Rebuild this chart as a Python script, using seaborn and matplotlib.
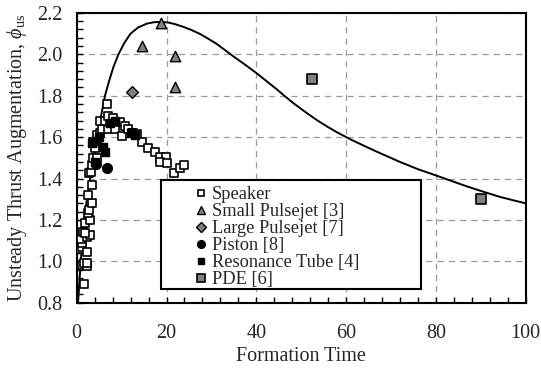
import matplotlib
matplotlib.use("Agg")
import matplotlib.pyplot as plt
from matplotlib.patches import Rectangle
from matplotlib.ticker import MultipleLocator
import seaborn as sns
import pandas as pd

# Speaker data (formation time, thrust augmentation)
speaker_t = [1.6, 1.1, 2.2, 1.6, 2.2, 0.5, 1.1, 2.2, 1.1, 0.9, 2.2, 3.0, 1.5, 1.85,
             1.85, 3.0, 2.6, 2.8, 3.3, 2.6, 3.5, 2.8, 3.1, 3.3, 3.7, 4.45, 4.1, 3.7,
             4.45, 5.2, 5.6, 5.2, 6.3, 6.7, 7.0, 7.4, 8.5, 8.5, 9.6, 10.0, 10.8, 11.5,
             12.3, 12.6, 13.5, 14.5, 15.9, 17.4, 18.6, 19.9, 18.6, 20.2, 21.7, 23.0,
             23.9, 7.0, 8.0]
speaker_phi = [0.89, 0.98, 0.975, 0.99, 0.99, 1.06, 1.07, 1.045, 1.09, 1.11, 1.115,
               1.125, 1.14, 1.135, 1.185, 1.20, 1.232, 1.25, 1.283, 1.32, 1.37, 1.425,
               1.43, 1.465, 1.50, 1.497, 1.545, 1.578, 1.61, 1.62, 1.64, 1.68, 1.68,
               1.758, 1.637, 1.674, 1.666, 1.64, 1.674, 1.605, 1.653, 1.64, 1.62, 1.62,
               1.615, 1.578, 1.545, 1.526, 1.505, 1.505, 1.48, 1.476, 1.425, 1.449,
               1.465, 1.70, 1.69]

small_pj_t = [14.5, 18.8, 21.9, 21.9]
small_pj_phi = [2.04, 2.15, 1.99, 1.84]

large_pj_t = [12.3]
large_pj_phi = [1.82]

piston_t = [6.7, 4.2]
piston_phi = [1.45, 1.47]

res_tube_t = [3.5, 4.5, 5.0, 4.1, 6.3, 5.8, 7.5, 8.5, 12.0, 13.0]
res_tube_phi = [1.57, 1.58, 1.60, 1.48, 1.53, 1.55, 1.67, 1.68, 1.62, 1.61]

pde_t = [52.4, 90.0]
pde_phi = [1.88, 1.30]

# Correlation curve
curve_t = [0.3, 0.9, 1.6, 2.3, 3.0, 3.8, 4.6, 5.4, 6.3, 7.2, 8.2, 9.3, 10.6, 12.0,
           13.7, 15.6, 17.2, 18.9, 20.5, 22.0, 23.7, 25.5, 27.5, 29.3, 31.2, 33.0,
           34.9, 37.5, 40.1, 42.3, 44.5, 46.4, 48.2, 51.0, 53.5, 55.7, 57.9, 60.9,
           63.8, 66.8, 69.4, 72.0, 76.0, 80.0, 83.5, 86.9, 90.6, 94.3, 97.2, 100.0]
curve_phi = [0.80, 1.00, 1.20, 1.30, 1.40, 1.50, 1.60, 1.70, 1.80, 1.87, 1.94, 2.00,
             2.055, 2.10, 2.13, 2.148, 2.155, 2.157, 2.153, 2.145, 2.133, 2.118,
             2.098, 2.075, 2.05, 2.021, 1.99, 1.95, 1.908, 1.87, 1.832, 1.797, 1.765,
             1.72, 1.682, 1.652, 1.624, 1.59, 1.56, 1.53, 1.505, 1.48, 1.445, 1.415,
             1.388, 1.362, 1.336, 1.311, 1.295, 1.280]

x_ticks = [0, 20, 40, 60, 80, 100]
y_ticks = [0.8, 1.0, 1.2, 1.4, 1.6, 1.8, 2.0, 2.2]

sns.set_style("white")
plt.rcParams["font.family"] = ["Liberation Serif", "DejaVu Serif"]
plt.rcParams["mathtext.fontset"] = "custom"
plt.rcParams["mathtext.rm"] = "Liberation Serif"
plt.rcParams["mathtext.it"] = "Liberation Serif:italic"

fig = plt.figure(figsize=(5.41, 3.71), dpi=100)
ax = fig.add_axes([0.1418, 0.1841, 0.8299, 0.7811])

ax.grid(True, which="major", color="#9a9a9a", linestyle=(0, (5, 4)), linewidth=0.9)
ax.set_axisbelow(True)

sns.lineplot(x=curve_t, y=curve_phi, sort=False, color="black", linewidth=1.4,
             ax=ax, zorder=2)

series = [
    ("Speaker", speaker_t, speaker_phi, "s", "white", 5.5, 1.2),
    ("Small Pulsejet [3]", small_pj_t, small_pj_phi, "^", "#808080", 7.5, 1.0),
    ("Large Pulsejet [7]", large_pj_t, large_pj_phi, "D", "#808080", 6.0, 1.0),
    ("Piston [8]", piston_t, piston_phi, "o", "black", 7.0, 1.0),
    ("Resonance Tube [4]", res_tube_t, res_tube_phi, "s", "black", 6.0, 1.0),
    ("PDE [6]", pde_t, pde_phi, "s", "#808080", 7.0, 1.2),
]
handles = []
for name, xs, ys, mk, fc, ms, ew in series:
    df = pd.DataFrame({"t": xs, "phi": ys})
    sns.scatterplot(data=df, x="t", y="phi", marker=mk, s=ms ** 2, color=fc,
                    edgecolor="black", linewidth=ew, ax=ax, zorder=3, legend=False)
    h, = ax.plot([], [], linestyle="none", marker=mk, markersize=ms * 0.8,
                 markerfacecolor=fc, markeredgecolor="black", markeredgewidth=ew)
    handles.append((h, name))

ax.set_xlim(0, 100)
ax.set_ylim(0.8, 2.2)
ax.set_xticks(x_ticks)
ax.set_yticks(y_ticks)
ax.set_xticklabels([str(v) for v in x_ticks])
ax.set_yticklabels([f"{v:.1f}" for v in y_ticks])
ax.xaxis.set_minor_locator(MultipleLocator(4))
ax.yaxis.set_minor_locator(MultipleLocator(0.04))
ax.tick_params(which="both", direction="in", length=4, width=1.0, color="black",
               bottom=True, left=True, top=False, right=False, labelsize=14.5)
ax.tick_params(axis="x", which="major", pad=15)
ax.tick_params(axis="y", which="major", pad=10)

for sp in ax.spines.values():
    sp.set_color("black")
    sp.set_linewidth(1.5)

ax.set_xlabel("Formation Time", fontsize=14.5, labelpad=3)
ax.set_ylabel(r"Unsteady Thrust Augmentation, $\phi_{\mathrm{us}}$", fontsize=14.5,
              labelpad=6)

# Legend box
box = Rectangle((0.188, 0.046), 0.579, 0.377, transform=ax.transAxes,
                facecolor="white", edgecolor="black", linewidth=1.5, zorder=4)
ax.add_patch(box)
leg = ax.legend([h for h, _ in handles], [n for _, n in handles],
                loc="center left", bbox_to_anchor=(0.262, 0.225),
                bbox_transform=ax.transAxes, frameon=False, fontsize=13.2,
                labelspacing=0.0, handletextpad=0.25, handlelength=0.7,
                borderpad=0.0, borderaxespad=0.0)
leg.set_zorder(5)

fig.savefig("out.png", dpi=100)
